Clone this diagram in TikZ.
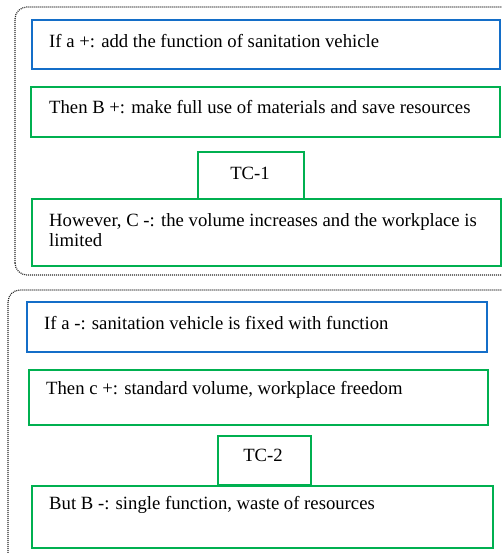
\documentclass[tikz,border=0pt]{standalone}
\usepackage{fontspec}
\setmainfont{Liberation Serif}
\definecolor{bblue}{RGB}{20,110,200}
\definecolor{bgreen}{RGB}{0,176,80}
\begin{document}
\begin{tikzpicture}[x=1pt,y=1pt,
  outer/.style={draw=black!85, line width=1.2pt, dash pattern=on 1pt off 1pt, rounded corners=12pt},
  bluebox/.style={draw=bblue, line width=1.7pt, rectangle, inner sep=0pt},
  greenbox/.style={draw=bgreen, line width=1.7pt, rectangle, inner sep=0pt},
  txt/.style={anchor=west, inner sep=0pt, font=\fontsize{18.7}{20}\selectfont, align=left},
  ctxt/.style={inner sep=0pt, font=\fontsize{18.7}{20}\selectfont}]
\useasboundingbox (0,0) rectangle (502,553);
% outer dotted frames
\draw[outer] (15,278) rectangle (540,546);
\draw[outer] (8,-30) rectangle (540,263);
% upper group
\node[bluebox, minimum width=468pt, minimum height=49pt] (b1) at (266,508.5) {};
\node[greenbox, minimum width=469pt, minimum height=50pt] (g1) at (265.5,441) {};
\node[greenbox, minimum width=106pt, minimum height=47pt] (tc1) at (251,377.5) {};
\node[greenbox, minimum width=469pt, minimum height=67pt] (g2) at (266.5,320.5) {};
\node[txt] (t1) at (49,512) {If a +: add the function of sanitation vehicle};
\node[txt] (t2) at (49,446) {Then B +: make full use of materials and save resources};
\node[ctxt] (t3) at (250,380) {TC-1};
\node[txt] (t4) at (49,323) {However, C -: the volume increases and the workplace is\\limited};
% lower group
\node[bluebox, minimum width=460pt, minimum height=50pt] (b2) at (257,226) {};
\node[greenbox, minimum width=459pt, minimum height=55pt] (g3) at (258.5,155.5) {};
\node[greenbox, minimum width=93pt, minimum height=49pt] (tc2) at (264.5,92.5) {};
\node[greenbox, minimum width=461pt, minimum height=62pt] (g4) at (262.5,36) {};
\node[txt] (t5) at (44,230) {If a -: sanitation vehicle is fixed with function};
\node[txt] (t6) at (46,163) {Then c +: standard volume, workplace freedom};
\node[ctxt] (t7) at (263,98) {TC-2};
\node[txt] (t8) at (49,48) {But B -: single function, waste of resources};
\end{tikzpicture}
\end{document}
